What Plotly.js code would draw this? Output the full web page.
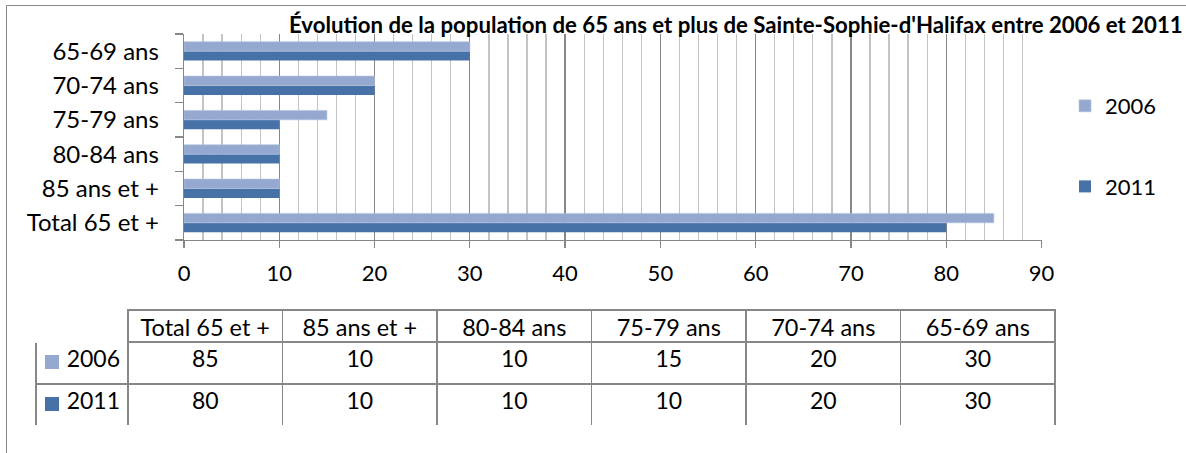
<!DOCTYPE html>
<html>
<head>
<meta charset="utf-8">
<script src="https://cdn.plot.ly/plotly-3.0.1.min.js"></script>
<style>
  html, body { margin: 0; padding: 0; background: #fff; }
  #chart { width: 1186px; height: 453px; }
</style>
</head>
<body>
<div id="chart"></div>
<script>
// --- Data (bottom-to-top order on the chart, left-to-right in the table) ---
const categories = ['Total 65 et +', '85 ans et +', '80-84 ans', '75-79 ans', '70-74 ans', '65-69 ans'];
const pop2006 = [85, 10, 10, 15, 20, 30];
const pop2011 = [80, 10, 10, 10, 20, 30];
const seriesNames = ['2006', '2011'];
const xTicks = [0, 10, 20, 30, 40, 50, 60, 70, 80, 90];

const COLOR_2006 = '#95a9d0';
const COLOR_2011 = '#4672a8';
const SERIES_COLORS = [COLOR_2006, COLOR_2011];
const GRID_MAJOR = '#878787';
const GRID_MINOR = '#c3c3c3';
const FONT = 'Lato, "Open Sans", sans-serif';

const W = 1186, H = 453;
const px = x => x / W;
const py = y => 1 - y / H;

// table geometry (pixels)
const TABLE_LEFT = 36, KEY_COL_W = 92, DATA_COL_W = 154.5;
const TABLE_RIGHT = TABLE_LEFT + KEY_COL_W + DATA_COL_W * categories.length;
const TABLE_TOP = 310, HEADER_H = 32, ROW_H = 42;
const TABLE_BOTTOM = TABLE_TOP + HEADER_H + ROW_H * seriesNames.length;

// 2011 first so that 2006 sits on top within each pair
const traces = [
  {
    type: 'bar', orientation: 'h',
    y: categories, x: pop2011,
    name: seriesNames[1],
    legendgroup: 'b', legendrank: 2,
    marker: { color: COLOR_2011 },
    hoverinfo: 'x+name',
  },
  {
    type: 'bar', orientation: 'h',
    y: categories, x: pop2006,
    name: seriesNames[0],
    legendgroup: 'a', legendrank: 1,
    marker: { color: COLOR_2006, line: { color: '#b4c3e0', width: 0.6 } },
    hoverinfo: 'x+name',
  },
  {
    type: 'table',
    domain: { x: [px(TABLE_LEFT), px(TABLE_RIGHT)], y: [py(TABLE_BOTTOM), py(TABLE_TOP)] },
    columnwidth: [KEY_COL_W].concat(categories.map(() => DATA_COL_W)),
    header: {
      values: [''].concat(categories),
      height: HEADER_H,
      align: 'center',
      line: { color: ['#ffffff'].concat(categories.map(() => GRID_MAJOR)), width: 1.5 },
      fill: { color: '#ffffff' },
      font: { family: FONT, size: 23.5, color: '#000' },
    },
    cells: {
      values: [seriesNames].concat(categories.map((c, i) => [pop2006[i], pop2011[i]])),
      height: ROW_H,
      align: ['right'].concat(categories.map(() => 'center')),
      line: { color: GRID_MAJOR, width: 1.5 },
      fill: { color: '#ffffff' },
      font: { family: FONT, size: 23, color: '#000' },
    },
  },
];

// colour keys in the table's first column
const keyShapes = seriesNames.map((n, i) => {
  const cy = TABLE_TOP + HEADER_H + ROW_H * i + ROW_H / 2 - 1;
  return {
    type: 'rect', xref: 'paper', yref: 'paper',
    x0: px(45), x1: px(59), y0: py(cy + 7), y1: py(cy - 7),
    fillcolor: SERIES_COLORS[i], line: { width: 0 },
  };
});

const layout = {
  width: W, height: H,
  margin: { l: 0, r: 0, t: 0, b: 0 },
  paper_bgcolor: '#fff',
  plot_bgcolor: '#fff',
  font: { family: FONT, color: '#000' },
  barmode: 'group',
  bargap: 0.45,
  bargroupgap: 0,
  title: {
    text: "Évolution de la population de 65 ans et plus de Sainte-Sophie-d'Halifax entre 2006 et 2011",
    font: { family: FONT, size: 22.2, weight: 'bold', color: '#000' },
    x: px(289), xanchor: 'left', xref: 'container',
    y: py(25), yanchor: 'middle', yref: 'container',
  },
  xaxis: {
    domain: [px(184), px(1041.5)],
    range: [0, 90],
    tickvals: xTicks,
    ticks: 'outside', ticklen: 7, tickcolor: GRID_MAJOR, tickwidth: 1.3,
    showline: true, linecolor: GRID_MAJOR, linewidth: 1.3,
    showgrid: true, gridcolor: GRID_MAJOR, gridwidth: 1.3,
    minor: { dtick: 2, showgrid: true, gridcolor: GRID_MINOR, gridwidth: 1.3 },
    zeroline: false,
    tickfont: { family: FONT, size: 22 },
    ticklabelstandoff: 6,
    fixedrange: true,
  },
  yaxis: {
    domain: [py(240), py(34)],
    type: 'category',
    ticks: 'outside', ticklen: 8, tickcolor: GRID_MAJOR, tickwidth: 1.3,
    tickson: 'boundaries',
    showline: true, linecolor: GRID_MAJOR, linewidth: 1.3,
    showgrid: false, zeroline: false,
    tickfont: { family: FONT, size: 24 },
    ticklabelstandoff: 19,
    fixedrange: true,
  },
  showlegend: true,
  legend: {
    x: px(1065), xanchor: 'left',
    y: py(85), yanchor: 'top',
    traceorder: 'grouped',
    tracegroupgap: 49,
    font: { family: FONT, size: 22 },
    bgcolor: 'rgba(0,0,0,0)',
  },
  shapes: [
    {
      type: 'rect', xref: 'paper', yref: 'paper',
      x0: px(6.5), x1: 1.02, y0: -0.05, y1: py(5.5),
      line: { color: GRID_MAJOR, width: 1 },
      fillcolor: 'rgba(0,0,0,0)', layer: 'below',
    },
  ].concat(keyShapes),
};

Plotly.newPlot('chart', traces, layout, { staticPlot: true, displayModeBar: false });
</script>
</body>
</html>
